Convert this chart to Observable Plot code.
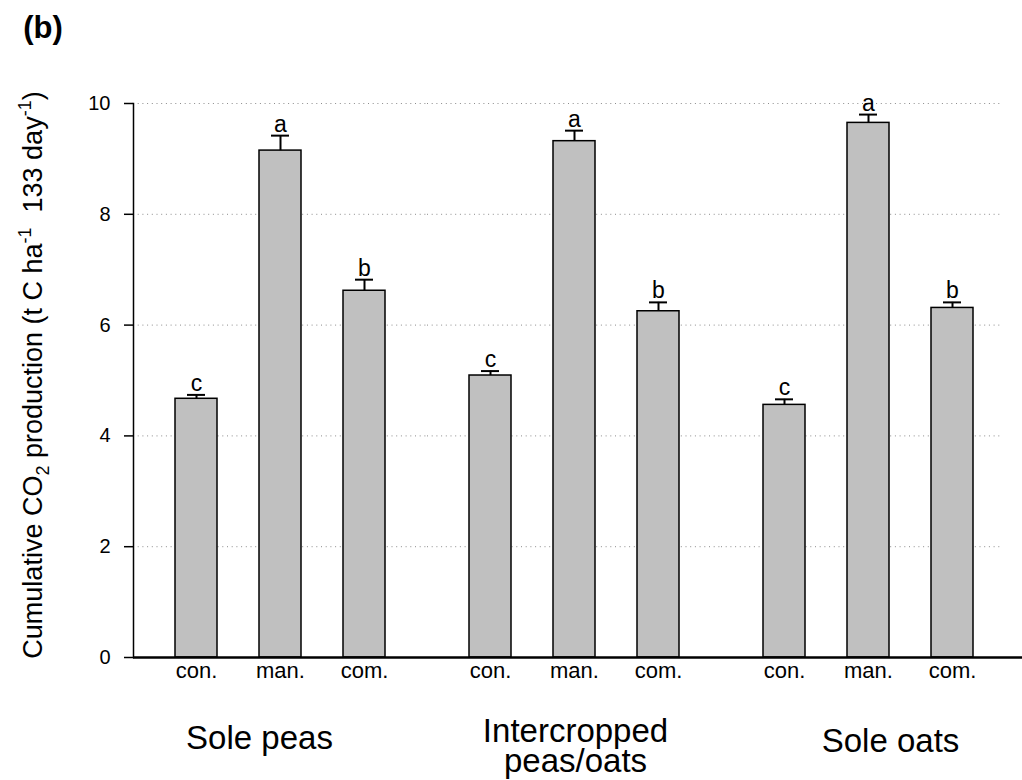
<!DOCTYPE html>
<html>
<head>
<meta charset="utf-8">
<script src="https://cdn.jsdelivr.net/npm/d3@7"></script>
<script src="https://cdn.jsdelivr.net/npm/@observablehq/plot@0.6"></script>
<style>
  html, body { margin: 0; padding: 0; background: white; }
</style>
</head>
<body>
<div id="chart"></div>
<script>
// ---- data ----
const groups = ["Sole peas", "Intercropped peas/oats", "Sole oats"];
const groupLabels = ["Sole peas", "Intercropped\npeas/oats", "Sole oats"];
const treatments = ["con.", "man.", "com."];

const solePeasMean = [4.67, 9.15, 6.62];
const intercropMean = [5.09, 9.32, 6.25];
const soleOatsMean = [4.56, 9.65, 6.31];

const solePeasSE = [0.07, 0.27, 0.20];
const intercropSE = [0.08, 0.19, 0.16];
const soleOatsSE = [0.10, 0.15, 0.10];

const solePeasLetters = ["c", "a", "b"];
const intercropLetters = ["c", "a", "b"];
const soleOatsLetters = ["c", "a", "b"];

const yTicks = [0, 2, 4, 6, 8, 10];
const yGrid = [2, 4, 6, 8, 10];

// ---- table ----
const means = [solePeasMean, intercropMean, soleOatsMean];
const ses = [solePeasSE, intercropSE, soleOatsSE];
const letters = [solePeasLetters, intercropLetters, soleOatsLetters];
const rows = groups.flatMap((g, i) => treatments.map((t, j) => ({
  group: g, treat: t, mean: means[i][j], top: means[i][j] + ses[i][j], letter: letters[i][j]
})));
const gridMain = groups.slice(0, 2).flatMap(g => yGrid.map(v => ({group: g, v})));
const gridLast = groups.slice(2).flatMap(g => yGrid.map(v => ({group: g, v})));
const baseMain = groups.slice(0, 2).map(g => ({group: g, v: 0}));
const baseLast = groups.slice(2).map(g => ({group: g, v: 0}));

const font = "Liberation Sans, Arial, Helvetica, sans-serif";
// label placement tweaks (style)
const labelShift = [{dx: -21, dy: 70}, {dx: 1, dy: 63}, {dx: 22, dy: 73}];

const chart = Plot.plot({
  width: 1022,
  height: 780,
  marginLeft: 133,
  marginRight: 7,
  marginTop: 103,
  marginBottom: 123,
  style: {fontFamily: font, background: "white", color: "black", overflow: "visible"},
  fx: {domain: groups, padding: 0, axis: null, label: null},
  x: {domain: treatments, padding: 0.5, label: null},
  y: {domain: [0, 10], label: null},
  marks: [
    Plot.ruleY(gridMain, {fx: "group", y: "v", stroke: "#8c8c8c", strokeDasharray: "1,3.7", strokeWidth: 1}),
    Plot.ruleY(gridLast, {fx: "group", y: "v", stroke: "#8c8c8c", strokeDasharray: "1,3.7", strokeWidth: 1, insetRight: 15}),
    Plot.barY(rows, {fx: "group", x: "treat", y: "mean", fill: "#c0c0c0", stroke: "black", strokeWidth: 1.5}),
    Plot.ruleX(rows, {fx: "group", x: "treat", y1: "mean", y2: "top", stroke: "black", strokeWidth: 2}),
    Plot.tickY(rows, {fx: "group", x: "treat", y: "top", stroke: "black", strokeWidth: 2, insetLeft: 12, insetRight: 12}),
    Plot.text(rows, {fx: "group", x: "treat", y: "top", text: "letter", dy: -4, lineAnchor: "bottom", fontSize: 23, fill: "black"}),
    Plot.ruleY(baseMain, {fx: "group", y: "v", stroke: "black", strokeWidth: 2.5}),
    Plot.ruleY(baseLast, {fx: "group", y: "v", stroke: "black", strokeWidth: 2.5, insetRight: -7}),
    Plot.frame({anchor: "left", facetAnchor: "left", stroke: "black", strokeWidth: 1.5}),
    Plot.axisY({ticks: yTicks, tickSize: 9, tickPadding: 14, fontSize: 20, strokeWidth: 1.5, label: null}),
    Plot.axisX({tickSize: 0, tickPadding: 5, fontSize: 22, label: null}),
    ...groups.map((g, i) => Plot.text([g], {
      fx: d => d, text: () => groupLabels[i], frameAnchor: "bottom", lineAnchor: "top",
      dx: labelShift[i].dx, dy: labelShift[i].dy, fontSize: 33, lineHeight: 0.91, fill: "black"
    }))
  ]
});

const svg = d3.select(chart);
// y-axis title with sub/superscripts
const t = svg.append("text")
  .attr("transform", "translate(42,375) rotate(-90)")
  .attr("text-anchor", "middle")
  .attr("font-family", font)
  .attr("font-size", 27)
  .attr("fill", "black");
t.append("tspan").text("Cumulative CO");
t.append("tspan").attr("font-size", 18).attr("dy", 7).text("2");
t.append("tspan").attr("dy", -7).text(" production (t C ha");
t.append("tspan").attr("font-size", 18).attr("dy", -11).text("-1");
t.append("tspan").attr("dy", 11).text("\u00a0\u00a0133 day");
t.append("tspan").attr("font-size", 18).attr("dy", -11).text("-1");
t.append("tspan").attr("dy", 11).text(")");

svg.append("text")
  .attr("x", 43).attr("y", 38)
  .attr("font-family", font)
  .attr("font-weight", "bold")
  .attr("font-size", 31)
  .attr("fill", "black")
  .text("(b)");

document.getElementById("chart").appendChild(chart);
</script>
</body>
</html>
